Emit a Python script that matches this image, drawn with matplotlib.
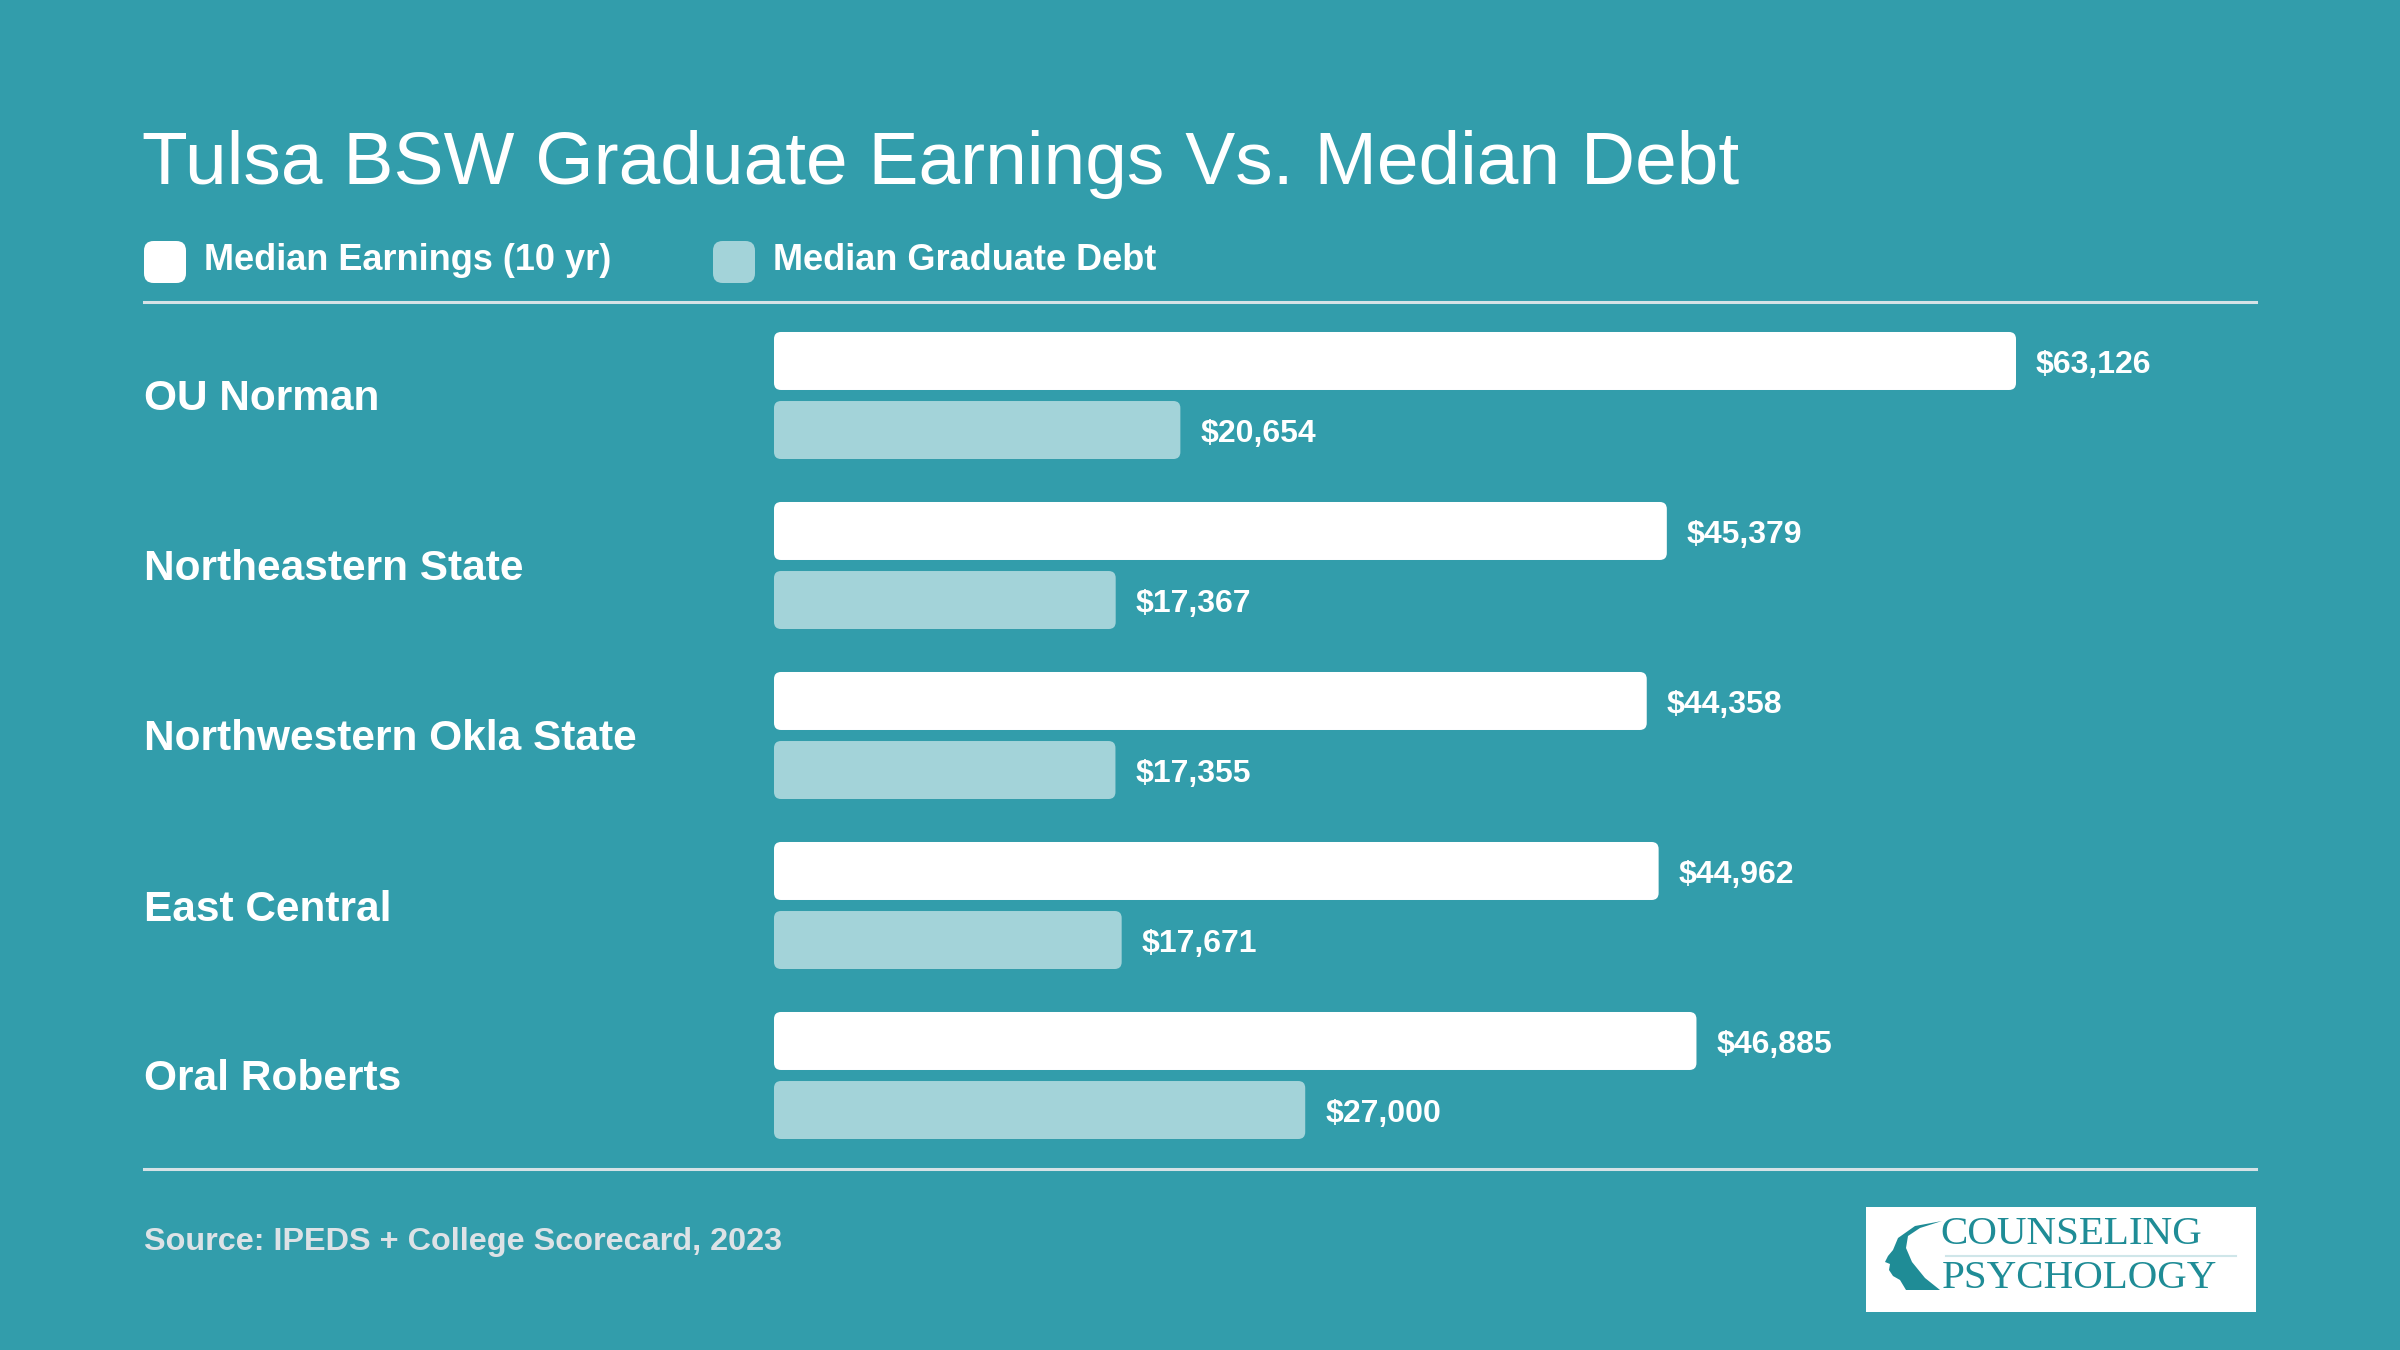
import matplotlib
matplotlib.use("Agg")
import matplotlib.pyplot as plt
from matplotlib.patches import FancyBboxPatch, Rectangle

# ---------------------------------------------------------
# Dane
# ---------------------------------------------------------
schools = ["OU Norman", "Northeastern State", "Northwestern Okla State",
           "East Central", "Oral Roberts"]
earnings = [63126, 45379, 44358, 44962, 46885]
debt = [20654, 17367, 17355, 17671, 27000]
legend_labels = ["Median Earnings (10 yr)", "Median Graduate Debt"]
title = "Tulsa BSW Graduate Earnings Vs. Median Debt"
source = "Source: IPEDS + College Scorecard, 2023"

BG = "#329dab"
DEBT_C = "#a3d3d9"
LINE_C = "#d6e2e6"
SRC_C = "#dde2e6"
LOGO_C = "#1f8c96"

W, H = 2400, 1350
plt.rcParams["font.family"] = ["Liberation Sans", "DejaVu Sans"]

fig = plt.figure(figsize=(24, 13.5), dpi=100, facecolor=BG)


def fx(px):
    return px / W


def fy(py):
    return 1 - py / H


# tytuł i legenda
fig.text(fx(142), fy(184), title, fontsize=54, color="white", va="baseline")
leg_x = [144, 713]
for i, lab in enumerate(legend_labels):
    c = "white" if i == 0 else DEBT_C
    fig.patches.append(FancyBboxPatch((fx(leg_x[i]), fy(283)), fx(42), 42 / H,
                                      boxstyle="round,pad=0,rounding_size=0.004",
                                      transform=fig.transFigure, fc=c, ec="none",
                                      mutation_aspect=W / H))
    fig.text(fx(leg_x[i] + 60), fy(261), lab, fontsize=26, fontweight="bold",
             color="white", va="center")

# linie poziome
for yy in [302, 1169]:
    fig.add_artist(plt.Line2D([fx(144), fx(2256)], [fy(yy), fy(yy)],
                              color=LINE_C, lw=2.2, transform=fig.transFigure))

# ---------------------------------------------------------
# Wykres słupkowy
# ---------------------------------------------------------
ax = fig.add_axes([fx(774), fy(1169), fx(2256 - 774), (1169 - 302) / H])
ax.set_facecolor("none")
px_per_dollar = 1242 / 63126
ax.set_xlim(0, (2256 - 774) / px_per_dollar)
ax.set_ylim(4.55, -0.55)
ax.axis("off")

ypos = list(range(len(schools)))
off = 0.203
bh = 58 / 170
b1 = ax.barh([y - off for y in ypos], earnings, height=bh, color="white")
b2 = ax.barh([y + off for y in ypos], debt, height=bh, color=DEBT_C)

r = 7  # promień zaokrąglenia w pikselach
for bars in (b1, b2):
    for p in bars:
        x0, y0 = p.get_x(), p.get_y()
        w, h = p.get_width(), p.get_height()
        fb = FancyBboxPatch((x0, y0), w, h,
                            boxstyle=f"round,pad=0,rounding_size={r / px_per_dollar}",
                            mutation_aspect=(1 / 170) * px_per_dollar,
                            fc=p.get_facecolor(), ec="none")
        ax.add_patch(fb)
        p.set_visible(False)

dy = 4 / 170  # lekkie przesunięcie tekstu w dół
for y, e, d in zip(ypos, earnings, debt):
    ax.text(e + 20 / px_per_dollar, y - off + dy, f"${e:,}", fontsize=23,
            fontweight="bold", color="white", va="center")
    ax.text(d + 20 / px_per_dollar, y + off + dy, f"${d:,}", fontsize=23,
            fontweight="bold", color="white", va="center")

# etykiety kategorii
for y, s in zip(ypos, schools):
    ax.text(-630 / px_per_dollar, y + dy, s, fontsize=30.5, fontweight="bold",
            color="white", va="center", ha="left")

# źródło
fig.text(fx(144), fy(1242), source, fontsize=23.3, fontweight="bold",
         color=SRC_C, va="center")

# logo
fig.patches.append(Rectangle((fx(1866), fy(1312)), fx(390), 105 / H,
                             transform=fig.transFigure, fc="white", ec="none"))
fig.text(fx(1940), fy(1234), "COUNSELING", fontsize=29.5, color=LOGO_C,
         family="Liberation Serif", va="center", zorder=4)
fig.text(fx(1942), fy(1278), "PSYCHOLOGY", fontsize=29.5, color=LOGO_C,
         family="Liberation Serif", va="center", zorder=4)
fig.add_artist(plt.Line2D([fx(1946), fx(2236)], [fy(1256), fy(1256)],
                          color="#cfe6e9", lw=1.5, transform=fig.transFigure,
                          zorder=4))
head_x = [1942, 1915, 1898, 1893, 1888, 1885, 1890, 1889, 1893, 1900, 1906, 1918, 1940, 1925, 1912, 1906, 1908, 1920, 1942]
head_y = [1221, 1226, 1238, 1250, 1256, 1262, 1264, 1270, 1276, 1280, 1290, 1290, 1290, 1278, 1262, 1248, 1236, 1228, 1221]
fig.add_artist(plt.Polygon([(fx(a), fy(b)) for a, b in zip(head_x, head_y)],
                           closed=True, fc=LOGO_C, ec="none",
                           transform=fig.transFigure, zorder=4))

fig.savefig("out.png", dpi=100, facecolor=BG)
